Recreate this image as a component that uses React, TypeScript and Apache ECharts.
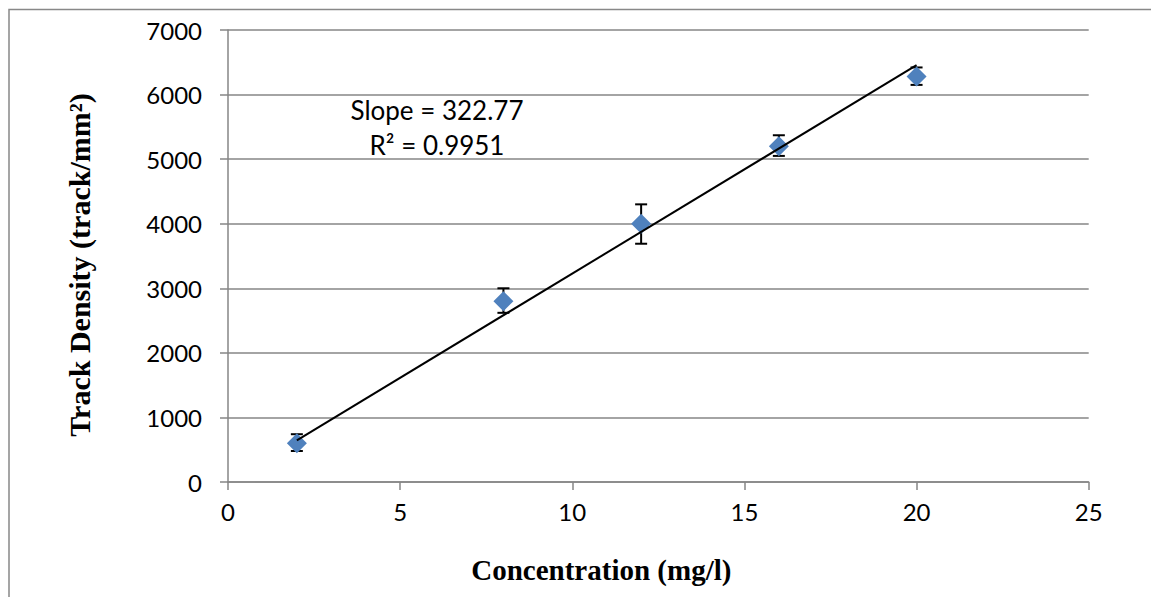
import React, { useEffect, useRef } from "react";
import * as echarts from "echarts";

const concentration = [2, 8, 12, 16, 20];
const trackDensity = [600, 2800, 4000, 5200, 6280];
const errorLow = [480, 2620, 3690, 5050, 6150];
const errorHigh = [740, 3000, 4300, 5370, 6420];
const trendSlope = 322.77;
const trendX = [2, 20];
const xTicks = { min: 0, max: 25, interval: 5 };
const yTicks = { min: 0, max: 7000, interval: 1000 };
const annotationLines = ["Slope = 322.77", "R² = 0.9951"];

export default function App() {
  const ref = useRef<HTMLDivElement>(null);
  useEffect(() => {
    if (!ref.current) return;
    const chart = echarts.init(ref.current, null, { renderer: "svg" });
    const axisGray = "#868686";
    const tickFont = { fontFamily: "Lato", fontSize: 24, color: "#000" };
    chart.setOption({
      animation: false,
      grid: { left: 228, top: 30, right: 62.3, bottom: 115, containLabel: false },
      xAxis: {
        type: "value",
        ...xTicks,
        name: "Concentration (mg/l)",
        nameLocation: "middle",
        nameGap: 73,
        nameTextStyle: {
          fontFamily: "Liberation Serif",
          fontWeight: "bold",
          fontSize: 29,
          color: "#000",
          verticalAlign: "top",
          padding: [0, 114, 0, 0],
        },
        axisLine: { show: true, onZero: false, lineStyle: { color: axisGray, width: 1.5 } },
        axisTick: { show: true, length: 8, lineStyle: { color: axisGray, width: 1.5 } },
        axisLabel: { ...tickFont, margin: 17, formatter: (v: number) => String(v) },
        splitLine: { show: false },
      },
      yAxis: {
        type: "value",
        ...yTicks,
        name: "Track Density (track/mm²)",
        nameLocation: "middle",
        nameRotate: 90,
        nameGap: 134,
        nameTextStyle: {
          fontFamily: "Liberation Serif",
          fontWeight: "bold",
          fontSize: 30,
          color: "#000",
          padding: [0, 18, 0, 0],
        },
        axisLine: { show: true, lineStyle: { color: axisGray, width: 1.5 } },
        axisTick: { show: true, length: 8, lineStyle: { color: axisGray, width: 1.5 } },
        axisLabel: { ...tickFont, margin: 26, formatter: (v: number) => String(v) },
        splitLine: { show: true, lineStyle: { color: axisGray, width: 1.5 } },
      },
      graphic: [
        {
          type: "rect",
          shape: { x: 9, y: 9.5, width: 1300, height: 800 },
          style: { fill: "none", stroke: "#888", lineWidth: 1.5 },
          silent: true,
        },
        {
          type: "text",
          x: 437,
          y: 110,
          style: { text: annotationLines[0], fontFamily: "Lato", fontSize: 26, fill: "#000", textAlign: "center", textVerticalAlign: "middle" },
        },
        {
          type: "text",
          x: 437,
          y: 145,
          style: { text: annotationLines[1], fontFamily: "Lato", fontSize: 26, fill: "#000", textAlign: "center", textVerticalAlign: "middle" },
        },
      ],
      series: [
        {
          type: "custom",
          z: 1,
          data: concentration.map((x, i) => [x, errorLow[i], errorHigh[i]]),
          renderItem: (params: any, api: any) => {
            const x = api.value(0);
            const lo = api.coord([x, api.value(1)]);
            const hi = api.coord([x, api.value(2)]);
            const cap = 6;
            const style = { stroke: "#000", lineWidth: 2 };
            return {
              type: "group",
              children: [
                { type: "line", shape: { x1: lo[0], y1: lo[1], x2: hi[0], y2: hi[1] }, style },
                { type: "line", shape: { x1: lo[0] - cap, y1: lo[1], x2: lo[0] + cap, y2: lo[1] }, style },
                { type: "line", shape: { x1: hi[0] - cap, y1: hi[1], x2: hi[0] + cap, y2: hi[1] }, style },
              ],
            };
          },
        },
        {
          type: "scatter",
          z: 2,
          symbol: "diamond",
          symbolSize: 20,
          itemStyle: { color: "#4F81BD", opacity: 1 },
          data: concentration.map((x, i) => [x, trackDensity[i]]),
        },
        {
          type: "line",
          z: 3,
          symbol: "none",
          lineStyle: { color: "#000", width: 2 },
          data: trendX.map((x) => [x, trendSlope * x]),
        },
      ],
    });
    return () => chart.dispose();
  }, []);
  return (
    <div
      ref={ref}
      style={{ position: "fixed", left: 0, top: 0, width: 1151, height: 597, background: "#fff" }}
    />
  );
}
